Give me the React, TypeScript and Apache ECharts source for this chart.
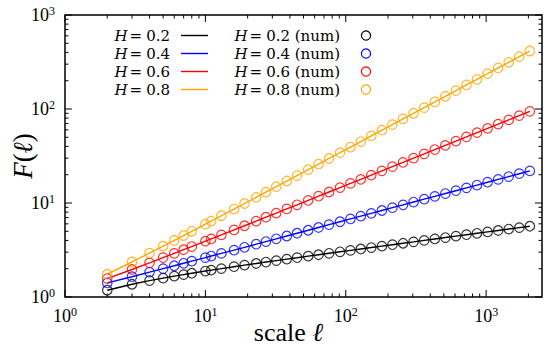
import React, { useEffect, useRef } from 'react';
import * as echarts from 'echarts';

// scale values (ℓ)
const scales = [2, 3, 4, 5, 6, 7, 8, 10, 11, 13, 16, 19, 23, 27, 32, 38, 45, 54, 64, 76, 91, 108, 128, 152, 181, 215, 256, 304, 362, 431, 512, 609, 724, 861, 1024, 1218, 1448, 1722, 2048];

// F(ℓ)
const fH02 = [1.18, 1.366, 1.492, 1.587, 1.666, 1.732, 1.79, 1.888, 1.931, 2.005, 2.101, 2.182, 2.273, 2.353, 2.439, 2.528, 2.618, 2.719, 2.816, 2.917, 3.026, 3.133, 3.243, 3.357, 3.478, 3.601, 3.729, 3.861, 4.003, 4.146, 4.291, 4.442, 4.598, 4.761, 4.929, 5.102, 5.282, 5.467, 5.661];
const fH04 = [1.411, 1.644, 1.836, 2.003, 2.149, 2.283, 2.406, 2.624, 2.727, 2.909, 3.152, 3.378, 3.646, 3.888, 4.159, 4.456, 4.768, 5.129, 5.489, 5.878, 6.317, 6.767, 7.242, 7.757, 8.322, 8.913, 9.557, 10.24, 10.98, 11.77, 12.61, 13.51, 14.49, 15.52, 16.64, 17.83, 19.11, 20.49, 21.95];
const fH06 = [1.571, 1.962, 2.307, 2.621, 2.912, 3.184, 3.441, 3.921, 4.147, 4.576, 5.173, 5.728, 6.415, 7.058, 7.807, 8.653, 9.57, 10.67, 11.81, 13.09, 14.58, 16.15, 17.86, 19.81, 21.99, 24.38, 27.07, 30.02, 33.34, 37.02, 41.05, 45.55, 50.52, 56.07, 62.22, 69.04, 76.59, 84.99, 94.3];
const fH08 = [1.747, 2.357, 2.929, 3.474, 3.999, 4.508, 5.002, 5.955, 6.418, 7.318, 8.623, 9.877, 11.49, 13.05, 14.94, 17.13, 19.59, 22.66, 25.95, 29.75, 34.36, 39.38, 45.07, 51.7, 59.47, 68.22, 78.45, 90.05, 103.5, 119.0, 136.6, 156.9, 180.3, 207.0, 237.8, 273.3, 313.8, 360.5, 414.0];

const hLabels = ['0.2', '0.4', '0.6', '0.8'];
const colors = ['#000000', '#0000ff', '#ff0000', '#ffa500'];

const xMajorTicks = [1, 10, 100, 1000];
const xMinorTicks = [2, 3, 4, 5, 6, 7, 8, 9, 20, 30, 40, 50, 60, 70, 80, 90, 200, 300, 400, 500, 600, 700, 800, 900, 2000];
const yMajorTicks = [1, 10, 100, 1000];
const yMinorTicks = [2, 3, 4, 5, 6, 7, 8, 9, 20, 30, 40, 50, 60, 70, 80, 90, 200, 300, 400, 500, 600, 700, 800, 900];

const SERIF = '"Liberation Serif", "DejaVu Serif", serif';
const LEG_FONT = '"DejaVu Serif", "Liberation Serif", serif';

export default function App() {
  const ref = useRef<HTMLDivElement>(null);

  useEffect(() => {
    document.body.style.margin = '0';
    if (!ref.current) return;
    const chart = echarts.init(ref.current, undefined, { renderer: 'svg' });

    const allF = [fH02, fH04, fH06, fH08];

    const lineSeries = allF.map((f, i) => ({
      type: 'line',
      name: `H = ${hLabels[i]}`,
      data: scales.map((l, k) => [l, f[k]]),
      symbol: 'none',
      lineStyle: { color: colors[i], width: 1.4 },
      itemStyle: { color: colors[i] },
      silent: true,
      z: 3,
    }));
    const scatterSeries = allF.map((f, i) => ({
      type: 'scatter',
      name: `H = ${hLabels[i]} (num)`,
      data: scales.map((l, k) => [l, f[k]]),
      symbol: 'circle',
      symbolSize: 9.5,
      itemStyle: { color: 'rgba(0,0,0,0)', borderColor: colors[i], borderWidth: 1.2 },
      silent: true,
      z: 4,
    }));

    const tickStyle = { stroke: '#000', lineWidth: 1 };
    const xTickData = [
      ...xMajorTicks.map((v) => [v, 1, 1]),
      ...xMinorTicks.map((v) => [v, 1, 0]),
    ];
    const yTickData = [
      ...yMajorTicks.map((v) => [1, v, 1]),
      ...yMinorTicks.map((v) => [1, v, 0]),
    ];

    const legendRich = {
      i: { fontFamily: LEG_FONT, fontStyle: 'italic', fontSize: 15, lineHeight: 17, color: '#000' },
      e: { fontFamily: LEG_FONT, fontSize: 15, lineHeight: 17, color: '#000', padding: [0, 4, 0, 2] },
      t: { fontFamily: LEG_FONT, fontSize: 15, lineHeight: 17, color: '#000' },
    };

    // hand-built key (text left of sample, as in the reference)
    const legendGraphics: any[] = [];
    hLabels.forEach((h, i) => {
      const cy = 35.5 + 18 * i;
      legendGraphics.push(
        {
          type: 'text',
          x: 170,
          y: cy,
          silent: true,
          style: { text: `{i|H}{e|=}{t|${h}}`, align: 'right', verticalAlign: 'middle', rich: legendRich },
        },
        {
          type: 'line',
          silent: true,
          shape: { x1: 181, y1: cy, x2: 208, y2: cy },
          style: { stroke: colors[i], lineWidth: 1.4 },
        },
        {
          type: 'text',
          x: 340,
          y: cy,
          silent: true,
          style: { text: `{i|H}{e|=}{t|${h} (num)}`, align: 'right', verticalAlign: 'middle', rich: legendRich },
        },
        {
          type: 'circle',
          silent: true,
          shape: { cx: 366, cy, r: 4.6 },
          style: { fill: 'none', stroke: colors[i], lineWidth: 1.2 },
        }
      );
    });

    const powLabel = (value: number) => {
      const e = Math.round(Math.log10(value));
      if (Math.abs(Math.pow(10, e) - value) > 1e-6) return '';
      return `{b|10}{s|${e}}`;
    };
    const labelRich = {
      b: { fontFamily: SERIF, fontSize: 18, lineHeight: 20, color: '#000' },
      s: { fontFamily: SERIF, fontSize: 12, lineHeight: 12, verticalAlign: 'top', color: '#000' },
    };

    chart.setOption({
      animation: false,
      backgroundColor: '#fff',
      grid: {
        left: 65,
        right: 8,
        top: 15,
        bottom: 50,
        outerBoundsMode: 'none',
        containLabel: false,
        show: true,
        borderColor: '#000',
        borderWidth: 1.5,
        backgroundColor: 'transparent',
      },
      graphic: legendGraphics,
      xAxis: {
        type: 'log',
        logBase: 10,
        min: 1,
        max: 2500,
        axisLine: { show: false },
        axisTick: { show: false },
        splitLine: { show: false },
        axisLabel: { formatter: powLabel, rich: labelRich, margin: 9, showMaxLabel: false },
        name: '{t|scale }{i|ℓ}',
        nameLocation: 'middle',
        nameGap: 22,
        nameMoveOverlap: false,
        nameTextStyle: {
          padding: [0, 30, 0, 0],
          rich: {
            t: { fontFamily: SERIF, fontSize: 26, color: '#000' },
            i: { fontFamily: SERIF, fontSize: 26, fontStyle: 'italic', color: '#000' },
          },
        },
      },
      yAxis: {
        type: 'log',
        logBase: 10,
        min: 1,
        max: 1000,
        axisLine: { show: false },
        axisTick: { show: false },
        splitLine: { show: false },
        axisLabel: { formatter: powLabel, rich: labelRich, margin: 10 },
        name: '{i|F}{t|(}{i|ℓ}{t|)}',
        nameLocation: 'middle',
        nameRotate: 90,
        nameGap: 29,
        nameMoveOverlap: false,
        nameTextStyle: {
          rich: {
            t: { fontFamily: SERIF, fontSize: 27, color: '#000' },
            i: { fontFamily: SERIF, fontSize: 27, fontStyle: 'italic', color: '#000' },
          },
        },
      },
      series: [
        ...lineSeries,
        ...scatterSeries,
        {
          type: 'custom',
          silent: true,
          data: xTickData,
          encode: { x: 0, y: 1 },
          clip: false,
          z: 5,
          renderItem: (params: any, api: any) => {
            const cs = params.coordSys;
            const px = api.coord([api.value(0), 1])[0];
            const len = api.value(2) ? 7 : 3.5;
            const bottom = cs.y + cs.height;
            return {
              type: 'group',
              children: [
                { type: 'line', shape: { x1: px, y1: bottom, x2: px, y2: bottom - len }, style: tickStyle },
                { type: 'line', shape: { x1: px, y1: cs.y, x2: px, y2: cs.y + len }, style: tickStyle },
              ],
            };
          },
        },
        {
          type: 'custom',
          silent: true,
          data: yTickData,
          encode: { x: 0, y: 1 },
          clip: false,
          z: 5,
          renderItem: (params: any, api: any) => {
            const cs = params.coordSys;
            const py = api.coord([1, api.value(1)])[1];
            const len = api.value(2) ? 7 : 3.5;
            const right = cs.x + cs.width;
            return {
              type: 'group',
              children: [
                { type: 'line', shape: { x1: cs.x, y1: py, x2: cs.x + len, y2: py }, style: tickStyle },
                { type: 'line', shape: { x1: right, y1: py, x2: right - len, y2: py }, style: tickStyle },
              ],
            };
          },
        },
      ],
    });

    return () => chart.dispose();
  }, []);

  return <div ref={ref} style={{ width: 550, height: 347 }} />;
}
